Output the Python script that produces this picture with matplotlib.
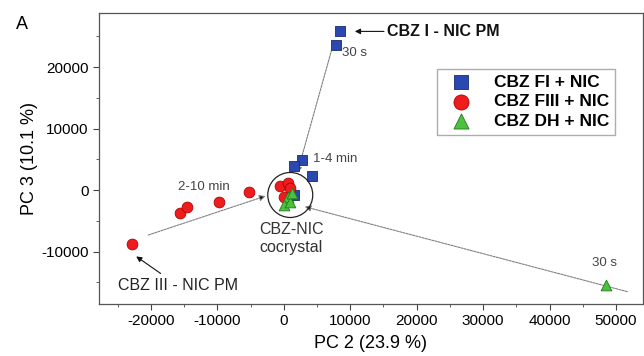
import matplotlib
matplotlib.use("Agg")
import matplotlib.pyplot as plt
from matplotlib.ticker import MultipleLocator

plt.rcParams["font.family"] = ["Liberation Sans", "DejaVu Sans"]
plt.rcParams["axes.unicode_minus"] = False

# PCA scores (PC 2, PC 3)
fi_x = [8460, 7860, 2820, 1480, 4300, 1480]
fi_y = [25790, 23600, 4800, 3980, 2340, -820]

fiii_x = [-22780, -15600, -14490, -9670, -5270, -570, 660, 50, 970]
fiii_y = [-8780, -3690, -2710, -1900, -380, 650, 1090, -1090, 280]

dh_x = [48430, 660, 50, 970, 1280]
dh_y = [-15450, -1090, -2440, -1900, -540]

# trajectories toward the cocrystal cluster: (start, end)
paths = [((7200, 22760), (2030, 2760)),
         ((-20380, -7320), (-2730, -980)),
         ((51700, -16530), (3140, -2710))]
cluster_center = (980, -810)

fig = plt.figure(figsize=(6.44, 3.56), dpi=100)
ax = fig.add_axes([0.1537, 0.146, 0.8447, 0.8166])

for (x0, y0), (x1, y1) in paths:
    ax.annotate("", xy=(x1, y1), xytext=(x0, y0),
                arrowprops=dict(arrowstyle="-|>", edgecolor="#808080",
                                facecolor="#111111", lw=0.8,
                                linestyle=(0, (2, 1)), mutation_scale=9,
                                shrinkA=0, shrinkB=0), zorder=1)

ax.scatter(fiii_x, fiii_y, marker="o", s=60, color="#ee1c1c",
           edgecolors="#b00000", linewidths=0.6, zorder=3, label="CBZ FIII + NIC")
ax.scatter(dh_x, dh_y, marker="^", s=60, color="#4cc23c",
           edgecolors="#1f7a1f", linewidths=0.6, zorder=4, label="CBZ DH + NIC")
ax.scatter(fi_x, fi_y, marker="s", s=45, color="#2b47b0",
           edgecolors="#1a2a70", linewidths=0.6, zorder=2, label="CBZ FI + NIC")

ax.scatter([cluster_center[0]], [cluster_center[1]], marker="o", s=1050,
           facecolors="none", edgecolors="#222222", linewidths=0.9, zorder=5)

# annotations
ax.annotate("CBZ I - NIC PM", xy=(10700, 25790), xytext=(15500, 25790),
            fontsize=11.5, fontweight="bold", color="#111111", va="center",
            arrowprops=dict(arrowstyle="-|>", color="#111111", lw=0.8,
                            mutation_scale=8, shrinkA=0, shrinkB=0))
ax.annotate("CBZ III - NIC PM", xy=(-22200, -10800), xytext=(-25000, -15500),
            fontsize=11.5, color="#222222", va="center", ha="left",
            arrowprops=dict(arrowstyle="-|>", color="#111111", lw=0.8,
                            mutation_scale=8, shrinkA=2, shrinkB=0))
ax.text(8700, 22280, "30 s", fontsize=9.5, color="#444444", va="center")
ax.text(4350, 4990, "1-4 min", fontsize=9.5, color="#444444", va="center")
ax.text(-15900, 540, "2-10 min", fontsize=9.5, color="#444444", va="center")
ax.text(48300, -11920, "30 s", fontsize=9.5, color="#444444", ha="center", va="center")
ax.text(1160, -7860, "CBZ-NIC\ncocrystal", fontsize=11.5, color="#333333",
        ha="center", va="center", linespacing=1.3)

ax.set_xlim(-27800, 54050)
ax.set_ylim(-18540, 28730)
ax.xaxis.set_major_locator(MultipleLocator(10000))
ax.xaxis.set_minor_locator(MultipleLocator(5000))
ax.yaxis.set_major_locator(MultipleLocator(10000))
ax.yaxis.set_minor_locator(MultipleLocator(5000))
ax.tick_params(which="both", direction="out", top=False, right=False,
               labelsize=11, color="#444444")
ax.tick_params(which="major", length=4)
ax.tick_params(which="minor", length=2.5)
for sp in ax.spines.values():
    sp.set_color("#555555")
    sp.set_linewidth(0.9)

ax.set_xlabel("PC 2 (23.9 %)", fontsize=13, labelpad=5)
ax.set_ylabel("PC 3 (10.1 %)", fontsize=13, labelpad=2)

handles, labels = ax.get_legend_handles_labels()
order = [2, 0, 1]
leg = ax.legend([handles[i] for i in order], [labels[i] for i in order],
                loc="upper right", bbox_to_anchor=(0.965, 0.84),
                frameon=True, fancybox=False, edgecolor="#999999",
                prop={"weight": "bold", "size": 12.5}, handletextpad=0.9,
                borderpad=0.35, labelspacing=0.25, markerscale=1.4)

fig.text(0.025, 0.93, "A", fontsize=13, ha="left", va="center")

fig.savefig("out.png", dpi=100)
